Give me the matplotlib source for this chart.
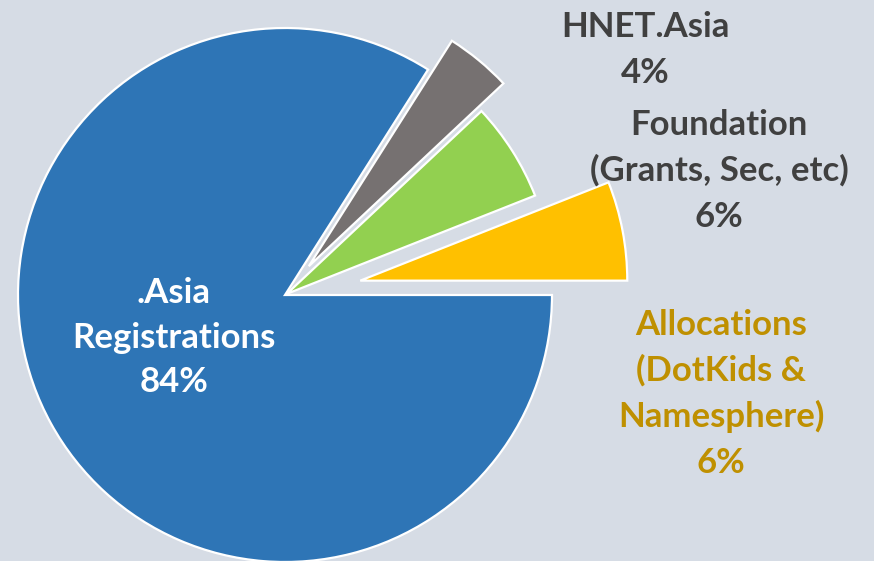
import matplotlib
matplotlib.use("Agg")
import matplotlib.pyplot as plt

# ---- data ----
categories = ["Allocations\n(DotKids &\nNamesphere)", "Foundation\n(Grants, Sec, etc)", "HNET.Asia", ".Asia\nRegistrations"]
shares = [6, 6, 4, 84]
pct_labels = ["6%", "6%", "4%", "84%"]
slice_colors = ["#FFC000", "#92D050", "#767171", "#2E75B6"]
explode = [0.287, 0.008, 0.14, 0.0]   # fraction of radius

W, H = 874, 561
BG = "#D6DCE5"

fig = plt.figure(figsize=(W / 100, H / 100), dpi=100, facecolor=BG)
ax = fig.add_axes([0, 0, 1, 1], facecolor=BG)

cx, cy, R = 285, H - 295, 267
ax.pie(shares, colors=slice_colors, explode=[e * R for e in explode], startangle=0,
       counterclock=True, center=(cx, cy), radius=R, frame=True,
       wedgeprops=dict(edgecolor="white", linewidth=1.6))
ax.set_xlim(0, W)
ax.set_ylim(0, H)
ax.set_aspect("equal")
ax.axis("off")

font = dict(family=["Lato", "DejaVu Sans"], weight="bold", fontsize=25)
text_colors = ["#BF9000", "#404040", "#404040", "white"]
# label anchor: (center x, first baseline y from top, line step) in pixels
anchors = [(721, 335, 46), (719, 135, 46), (645, 37, 46), (174, 303, 44.5)]

for cat, pct, col, (x, y0, step) in zip(categories, pct_labels, text_colors, anchors):
    lines = cat.split("\n") + [pct]
    for i, line in enumerate(lines):
        ax.text(x, H - (y0 + i * step), line, ha="center", va="baseline", color=col, **font)

fig.savefig("out.png", dpi=100, facecolor=BG)
